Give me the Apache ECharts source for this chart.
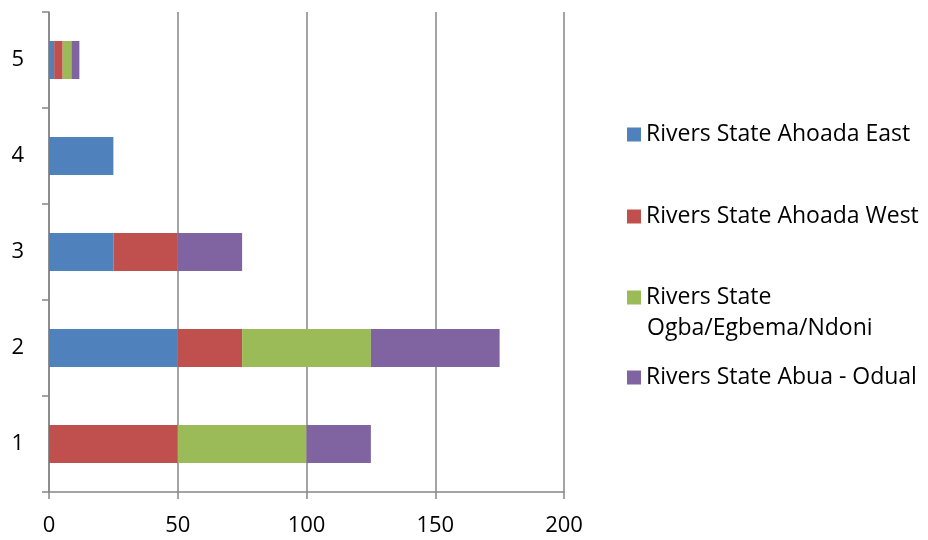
<!DOCTYPE html>
<html>
<head>
<meta charset="utf-8">
<script src="https://cdn.jsdelivr.net/npm/echarts@6/dist/echarts.min.js"></script>
<style>
  html, body { margin: 0; padding: 0; background: #fff; }
  #chart { width: 928px; height: 540px; }
</style>
</head>
<body>
<div id="chart"></div>
<script>
const categories = ['1', '2', '3', '4', '5'];
const seriesNames = [
  'Rivers State Ahoada East',
  'Rivers State Ahoada West',
  'Rivers State Ogba/Egbema/Ndoni',
  'Rivers State Abua - Odual'
];
const ahoadaEast = [0, 50, 25, 25, 2];
const ahoadaWest = [50, 25, 25, 0, 3.3];
const ogbaEgbemaNdoni = [50, 50, 0, 0, 3.4];
const abuaOdual = [25, 50, 25, 0, 3.1];
const colors = ['#4F81BD', '#C0504D', '#9BBB59', '#8064A2'];
// legend text is wrapped like the original: first line in the legend, the rest below it
const legendLines = [
  ['Rivers State Ahoada East'],
  ['Rivers State Ahoada West'],
  ['Rivers State', 'Ogba/Egbema/Ndoni'],
  ['Rivers State Abua - Odual']
];
const legendTops = [114, 196, 277, 357];

const font = 'Open Sans';
const gray = '#868686';
const values = [ahoadaEast, ahoadaWest, ogbaEgbemaNdoni, abuaOdual];

const chart = echarts.init(document.getElementById('chart'), null, { renderer: 'canvas' });

const wrapped = [];
legendLines.forEach((lines, i) => {
  lines.slice(1).forEach((line, j) => {
    wrapped.push({
      type: 'text',
      left: 647,
      top: legendTops[i] + 5 + 31 * (j + 1),
      style: {
        text: line,
        fill: '#000',
        font: '23px "Open Sans"',
        lineHeight: 31
      }
    });
  });
});

const option = {
  animation: false,
  grid: { left: 49, right: 364, top: 12, bottom: 48, containLabel: false },
  xAxis: {
    type: 'value',
    min: 0,
    max: 200,
    interval: 50,
    axisLine: { show: true, lineStyle: { color: gray, width: 1.5 } },
    axisTick: { show: true, length: 7, lineStyle: { color: gray, width: 1.5 } },
    axisLabel: { color: '#000', fontFamily: font, fontSize: 22, margin: 23 },
    splitLine: { show: true, lineStyle: { color: gray, width: 1.5 } }
  },
  yAxis: {
    type: 'category',
    data: categories,
    axisLine: { show: true, lineStyle: { color: gray, width: 1.5 } },
    axisTick: { show: true, length: 7, lineStyle: { color: gray, width: 1.5 } },
    axisLabel: { color: '#000', fontFamily: font, fontSize: 22, margin: 25 }
  },
  legend: legendLines.map((lines, i) => ({
    data: [{ name: seriesNames[i], itemStyle: { color: colors[i] } }],
    left: 622,
    top: legendTops[i],
    itemWidth: 14,
    itemHeight: 14,
    icon: 'rect',
    selectedMode: false,
    formatter: () => lines[0],
    textStyle: { color: '#000', fontFamily: font, fontSize: 23, lineHeight: 31 }
  })),
  graphic: wrapped,
  series: seriesNames.map((name, i) => ({
    name: name,
    type: 'bar',
    stack: 'total',
    data: values[i],
    barWidth: 38,
    itemStyle: { color: colors[i] }
  }))
};

chart.setOption(option);
</script>
</body>
</html>
